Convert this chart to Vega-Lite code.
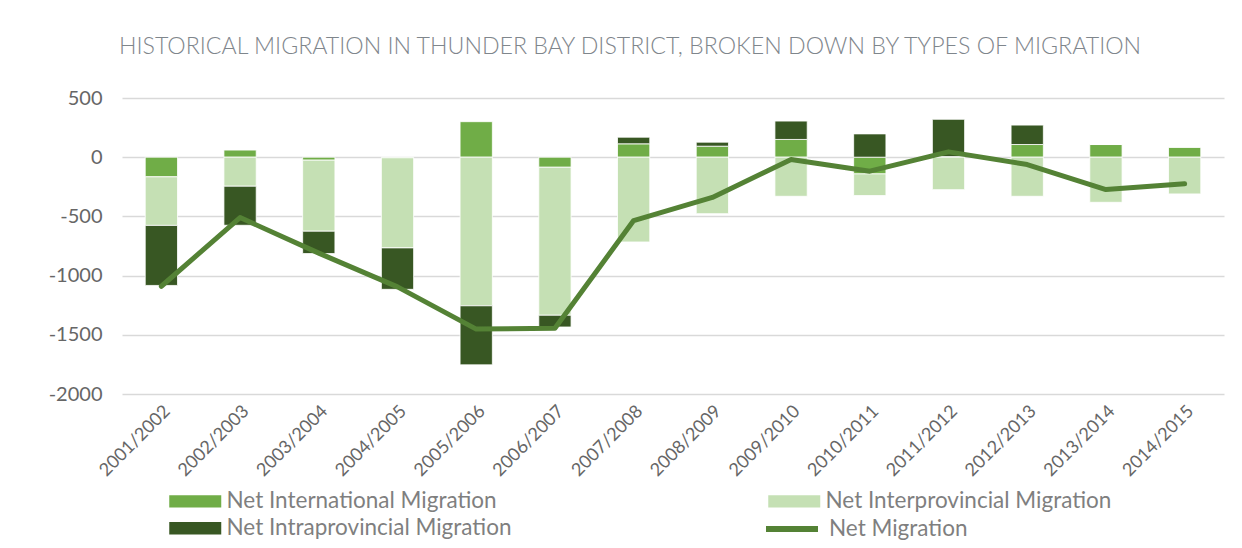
{
  "$schema": "https://vega.github.io/schema/vega-lite/v6.json",
  "width": 1102,
  "height": 296,
  "autosize": {"type": "none"},
  "padding": {"left": 122, "top": 98, "right": 18, "bottom": 154},
  "background": "white",
  "title": {
    "text": "HISTORICAL MIGRATION IN THUNDER BAY DISTRICT, BROKEN DOWN BY TYPES OF MIGRATION",
    "font": "Lato",
    "fontWeight": 300,
    "fontSize": 23.2,
    "color": "#7F868C",
    "anchor": "middle",
    "dx": -43,
    "offset": 29
  },
  "config": {
    "font": "Lato",
    "view": {"stroke": null},
    "axis": {"labelFont": "Lato", "labelColor": "#666666", "domain": false, "ticks": false, "title": null}
  },
  "data": {
    "values": [
      {"year": "2001/2002", "type": "Net International Migration", "value": -166},
      {"year": "2001/2002", "type": "Net Interprovincial Migration", "value": -410},
      {"year": "2001/2002", "type": "Net Intraprovincial Migration", "value": -507},
      {"year": "2001/2002", "type": "Net Migration", "value": -1090},
      {"year": "2002/2003", "type": "Net International Migration", "value": 60},
      {"year": "2002/2003", "type": "Net Interprovincial Migration", "value": -245},
      {"year": "2002/2003", "type": "Net Intraprovincial Migration", "value": -330},
      {"year": "2002/2003", "type": "Net Migration", "value": -510},
      {"year": "2003/2004", "type": "Net International Migration", "value": -25},
      {"year": "2003/2004", "type": "Net Interprovincial Migration", "value": -600},
      {"year": "2003/2004", "type": "Net Intraprovincial Migration", "value": -189},
      {"year": "2003/2004", "type": "Net Migration", "value": -810},
      {"year": "2004/2005", "type": "Net International Migration", "value": -5},
      {"year": "2004/2005", "type": "Net Interprovincial Migration", "value": -761},
      {"year": "2004/2005", "type": "Net Intraprovincial Migration", "value": -350},
      {"year": "2004/2005", "type": "Net Migration", "value": -1095},
      {"year": "2005/2006", "type": "Net International Migration", "value": 300},
      {"year": "2005/2006", "type": "Net Interprovincial Migration", "value": -1255},
      {"year": "2005/2006", "type": "Net Intraprovincial Migration", "value": -499},
      {"year": "2005/2006", "type": "Net Migration", "value": -1452},
      {"year": "2006/2007", "type": "Net International Migration", "value": -85},
      {"year": "2006/2007", "type": "Net Interprovincial Migration", "value": -1250},
      {"year": "2006/2007", "type": "Net Intraprovincial Migration", "value": -99},
      {"year": "2006/2007", "type": "Net Migration", "value": -1444},
      {"year": "2007/2008", "type": "Net International Migration", "value": 113},
      {"year": "2007/2008", "type": "Net Interprovincial Migration", "value": -716},
      {"year": "2007/2008", "type": "Net Intraprovincial Migration", "value": 56},
      {"year": "2007/2008", "type": "Net Migration", "value": -535},
      {"year": "2008/2009", "type": "Net International Migration", "value": 93},
      {"year": "2008/2009", "type": "Net Interprovincial Migration", "value": -477},
      {"year": "2008/2009", "type": "Net Intraprovincial Migration", "value": 34},
      {"year": "2008/2009", "type": "Net Migration", "value": -340},
      {"year": "2009/2010", "type": "Net International Migration", "value": 150},
      {"year": "2009/2010", "type": "Net Interprovincial Migration", "value": -330},
      {"year": "2009/2010", "type": "Net Intraprovincial Migration", "value": 155},
      {"year": "2009/2010", "type": "Net Migration", "value": -20},
      {"year": "2010/2011", "type": "Net International Migration", "value": -141},
      {"year": "2010/2011", "type": "Net Interprovincial Migration", "value": -183},
      {"year": "2010/2011", "type": "Net Intraprovincial Migration", "value": 197},
      {"year": "2010/2011", "type": "Net Migration", "value": -118},
      {"year": "2011/2012", "type": "Net International Migration", "value": 5},
      {"year": "2011/2012", "type": "Net Interprovincial Migration", "value": -274},
      {"year": "2011/2012", "type": "Net Intraprovincial Migration", "value": 315},
      {"year": "2011/2012", "type": "Net Migration", "value": 45},
      {"year": "2012/2013", "type": "Net International Migration", "value": 107},
      {"year": "2012/2013", "type": "Net Interprovincial Migration", "value": -330},
      {"year": "2012/2013", "type": "Net Intraprovincial Migration", "value": 164},
      {"year": "2012/2013", "type": "Net Migration", "value": -62},
      {"year": "2013/2014", "type": "Net International Migration", "value": 107},
      {"year": "2013/2014", "type": "Net Interprovincial Migration", "value": -381},
      {"year": "2013/2014", "type": "Net Intraprovincial Migration", "value": 0},
      {"year": "2013/2014", "type": "Net Migration", "value": -273},
      {"year": "2014/2015", "type": "Net International Migration", "value": 85},
      {"year": "2014/2015", "type": "Net Interprovincial Migration", "value": -310},
      {"year": "2014/2015", "type": "Net Intraprovincial Migration", "value": 0},
      {"year": "2014/2015", "type": "Net Migration", "value": -225}
    ]
  },
  "encoding": {
    "x": {
      "field": "year",
      "type": "nominal",
      "sort": null,
      "scale": {"paddingInner": 0.59, "paddingOuter": 0.295},
      "axis": {"labelAngle": -45, "labelFontSize": 18, "labelPadding": 8, "grid": false}
    }
  },
  "layer": [
    {
      "transform": [{"filter": "datum.type !== 'Net Migration'"}],
      "mark": {"type": "bar", "stroke": "#FFFFFF", "strokeWidth": 1, "strokeOpacity": 0.8},
      "encoding": {
        "y": {
          "field": "value",
          "type": "quantitative",
          "stack": "zero",
          "scale": {"domain": [-2000, 500], "nice": false},
          "axis": {"values": [-2000, -1500, -1000, -500, 0, 500], "labelExpr": "datum.value + ''", "labelFontSize": 20, "labelPadding": 20, "gridColor": "#D9D9D9", "gridWidth": 1.5}
        },
        "color": {
          "field": "type",
          "type": "nominal",
          "scale": {
            "domain": ["Net International Migration", "Net Intraprovincial Migration", "Net Interprovincial Migration"],
            "range": ["#70AD47", "#385723", "#C5E0B4"]
          },
          "legend": {
            "orient": "none",
            "legendX": 62,
            "legendY": 392,
            "columns": 2,
            "columnPadding": 256,
            "rowPadding": 4,
            "symbolSize": 169,
            "symbolType": "M-4,-0.95H4V0.95H-4Z",
            "symbolStrokeWidth": 0,
            "symbolOpacity": 1,
            "labelFont": "Lato",
            "labelFontSize": 22.5,
            "labelLimit": 500,
            "labelColor": "#7F7F7F",
            "labelOffset": 20,
            "title": null
          }
        },
        "order": {"field": "type", "sort": "ascending"}
      }
    },
    {
      "transform": [{"filter": "datum.type === 'Net Migration'"}],
      "mark": {"type": "line", "strokeWidth": 5, "strokeCap": "round", "strokeJoin": "round"},
      "encoding": {
        "y": {"field": "value", "type": "quantitative"},
        "stroke": {
          "field": "type",
          "type": "nominal",
          "scale": {"domain": ["Net Migration"], "range": ["#548235"]},
          "legend": {
            "orient": "none",
            "legendX": 641,
            "legendY": 402,
            "symbolType": "stroke",
            "symbolSize": 2704,
            "symbolStrokeWidth": 6,
            "labelFont": "Lato",
            "labelFontSize": 22.5,
            "labelLimit": 500,
            "labelColor": "#7F7F7F",
            "labelOffset": 8,
            "title": null
          }
        }
      }
    }
  ]
}
